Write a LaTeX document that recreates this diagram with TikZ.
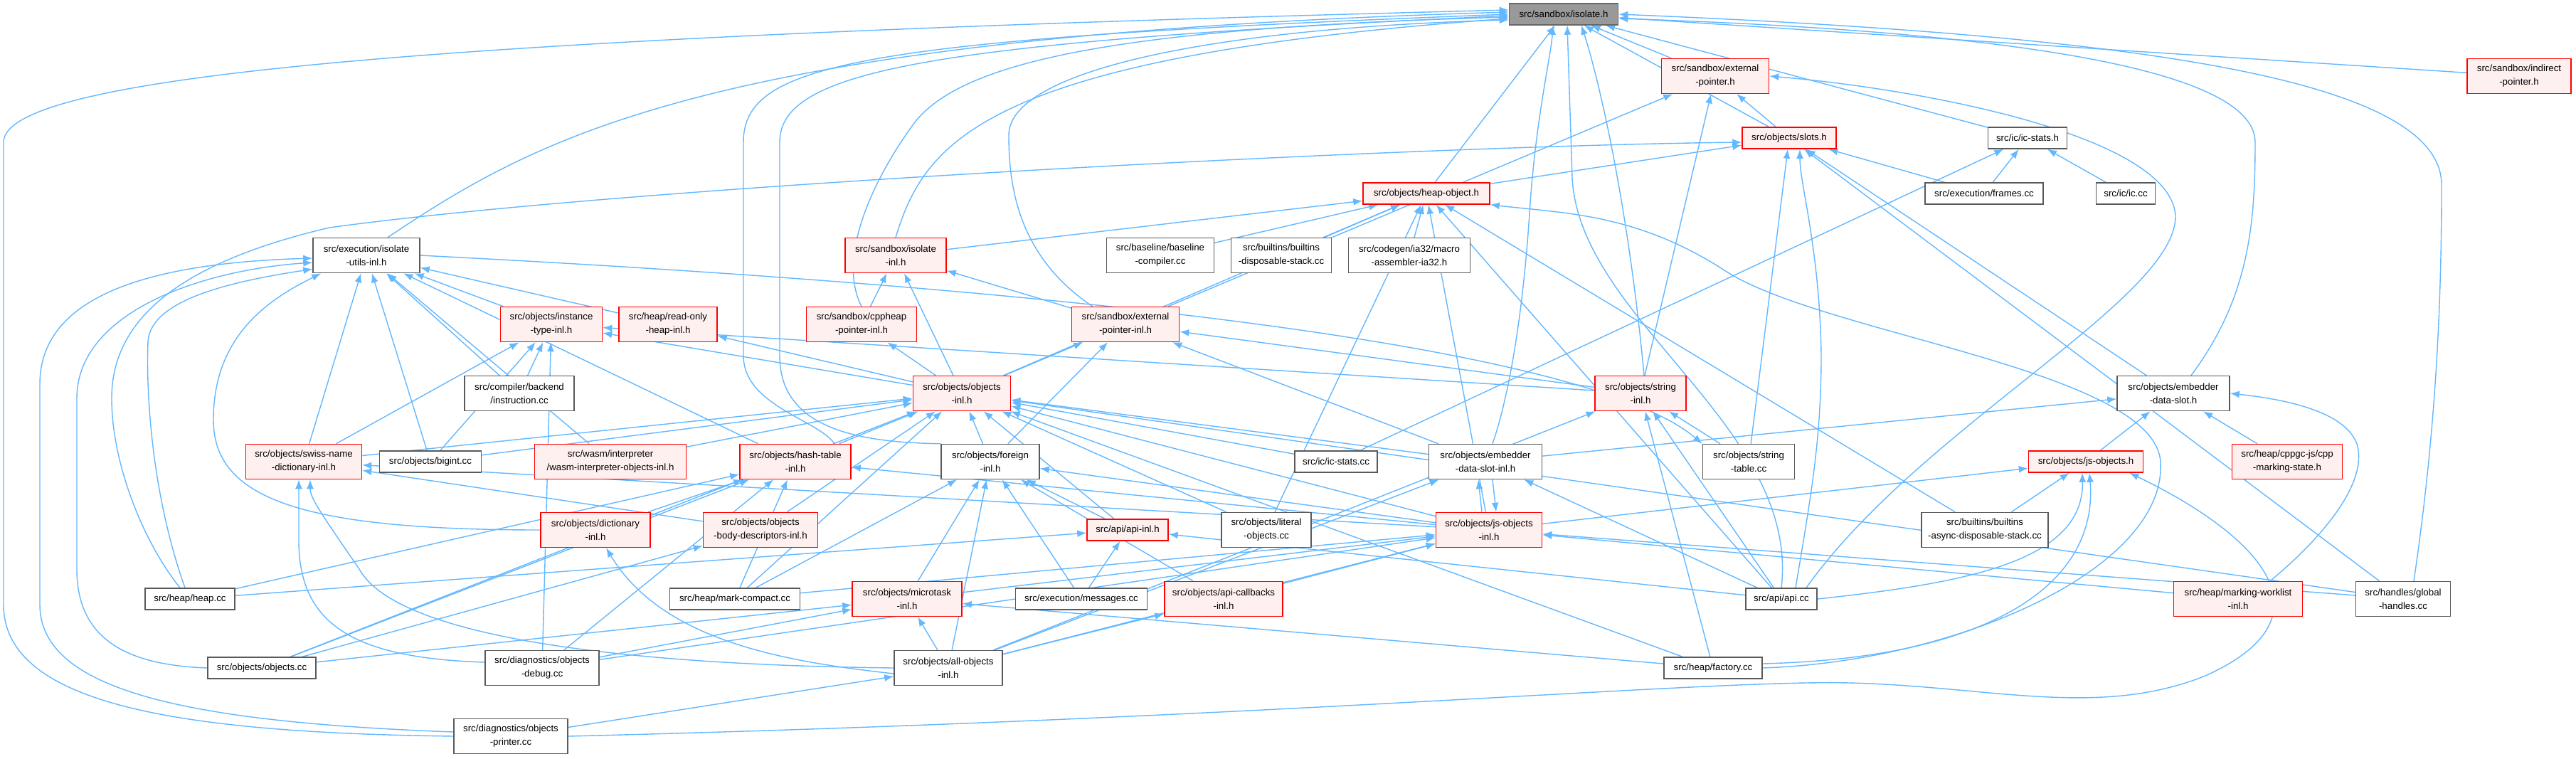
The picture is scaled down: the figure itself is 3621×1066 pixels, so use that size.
\documentclass[tikz,border=0pt]{standalone}
\usepackage{fontspec}
\setmainfont{Liberation Sans}
\usetikzlibrary{arrows.meta,calc,backgrounds}
\definecolor{eblue}{HTML}{63B8FF}
\definecolor{rfill}{HTML}{FFF0F0}
\begin{document}
\begin{tikzpicture}[x=1pt,y=-1pt,
 nb/.style={draw=black!65, fill=white, line width=1.5pt, font=\fontsize{13.3}{19}\selectfont, align=center, inner sep=0pt, minimum height=30pt},
 tl/.style={minimum height=49pt},
 rn/.style={draw=red, fill=rfill},
 gn/.style={draw=black!60, fill=black!40},
 ed/.style={draw=eblue, line width=1.4pt, -{Latex[length=13pt,width=10pt]}}]
\useasboundingbox (0,0) rectangle (3621,1066);
% nodes
\node[nb,gn,minimum width=153pt] (iso) at (2198,20) {src/sandbox/isolate.h};
\node[nb,tl,rn,minimum width=151pt] (sbext) at (2411,107) {src/sandbox/external\\-pointer.h};
\node[nb,tl,rn,minimum width=146pt] (indirect) at (3541,107) {src/sandbox/indirect\\-pointer.h};
\node[nb,rn,minimum width=132pt] (slots) at (2515,194) {src/objects/slots.h};
\node[nb,minimum width=111pt] (icstats) at (2850,194) {src/ic/ic-stats.h};
\node[nb,minimum width=166pt] (frames) at (2789,272) {src/execution/frames.cc};
\node[nb,minimum width=83pt] (iccc) at (2988,272) {src/ic/ic.cc};
\node[nb,rn,minimum width=178pt] (heapobject) at (2005,272) {src/objects/heap-object.h};
\node[nb,tl,minimum width=150pt] (isoutils) at (515,359) {src/execution/isolate\\-utils-inl.h};
\node[nb,tl,rn,minimum width=142pt] (sbisoinl) at (1259,359) {src/sandbox/isolate\\-inl.h};
\node[nb,tl,minimum width=151pt] (baseline) at (1631,359) {src/baseline/baseline\\-compiler.cc};
\node[nb,tl,minimum width=141pt] (builtinsdisp) at (1801,359) {src/builtins/builtins\\-disposable-stack.cc};
\node[nb,tl,minimum width=171pt] (codegen) at (1981,359) {src/codegen/ia32/macro\\-assembler-ia32.h};
\node[nb,tl,rn,minimum width=143pt] (insttype) at (775,456) {src/objects/instance\\-type-inl.h};
\node[nb,tl,rn,minimum width=138pt] (readonly) at (939,456) {src/heap/read-only\\-heap-inl.h};
\node[nb,tl,rn,minimum width=155pt] (cppheap) at (1211,456) {src/sandbox/cppheap\\-pointer-inl.h};
\node[nb,tl,rn,minimum width=151pt] (extptrinl) at (1582,456) {src/sandbox/external\\-pointer-inl.h};
\node[nb,tl,minimum width=154pt] (compiler) at (730,553) {src/compiler/backend\\/instruction.cc};
\node[nb,tl,rn,minimum width=137pt] (objectsinl) at (1352,553) {src/objects/objects\\-inl.h};
\node[nb,tl,rn,minimum width=128pt] (stringinl) at (2306,553) {src/objects/string\\-inl.h};
\node[nb,tl,minimum width=158pt] (embedder) at (3055,553) {src/objects/embedder\\-data-slot.h};
\node[nb,tl,rn,minimum width=163pt] (swiss) at (427,649) {src/objects/swiss-name\\-dictionary-inl.h};
\node[nb,minimum width=143pt] (bigint) at (605,649) {src/objects/bigint.cc};
\node[nb,tl,rn,minimum width=213pt] (wasm) at (858,649) {src/wasm/interpreter\\/wasm-interpreter-objects-inl.h};
\node[nb,tl,rn,minimum width=156pt] (hashtable) at (1118,649) {src/objects/hash-table\\-inl.h};
\node[nb,tl,minimum width=138pt] (foreign) at (1392,649) {src/objects/foreign\\-inl.h};
\node[nb,minimum width=116pt] (icstatscc) at (1878,649) {src/ic/ic-stats.cc};
\node[nb,tl,minimum width=159pt] (embedderinl) at (2088,649) {src/objects/embedder\\-data-slot-inl.h};
\node[nb,tl,minimum width=129pt] (stringtable) at (2458,649) {src/objects/string\\-table.cc};
\node[nb,rn,minimum width=161pt] (jsobjects) at (2932,649) {src/objects/js-objects.h};
\node[nb,tl,rn,minimum width=155pt] (cppgc) at (3215,649) {src/heap/cppgc-js/cpp\\-marking-state.h};
\node[nb,tl,rn,minimum width=154pt] (dictionary) at (837,745) {src/objects/dictionary\\-inl.h};
\node[nb,tl,rn,minimum width=161pt] (bodydesc) at (1069,745) {src/objects/objects\\-body-descriptors-inl.h};
\node[nb,rn,minimum width=114pt] (apiinl) at (1585,745) {src/api/api-inl.h};
\node[nb,tl,minimum width=126pt] (literal) at (1780,745) {src/objects/literal\\-objects.cc};
\node[nb,tl,rn,minimum width=149pt] (jsobjinl) at (2093,745) {src/objects/js-objects\\-inl.h};
\node[nb,tl,minimum width=178pt] (asyncdisp) at (2790,745) {src/builtins/builtins\\-async-disposable-stack.cc};
\node[nb,minimum width=126pt] (heapcc) at (267,842) {src/heap/heap.cc};
\node[nb,minimum width=183pt] (markcompact) at (1033,842) {src/heap/mark-compact.cc};
\node[nb,tl,rn,minimum width=154pt] (microtask) at (1275,842) {src/objects/microtask\\-inl.h};
\node[nb,minimum width=185pt] (messages) at (1520,842) {src/execution/messages.cc};
\node[nb,tl,rn,minimum width=166pt] (apicallbacks) at (1720,842) {src/objects/api-callbacks\\-inl.h};
\node[nb,minimum width=100pt] (apicc) at (2504,842) {src/api/api.cc};
\node[nb,tl,rn,minimum width=181pt] (markingworklist) at (3146,842) {src/heap/marking-worklist\\-inl.h};
\node[nb,tl,minimum width=133pt] (globalhandles) at (3378,842) {src/handles/global\\-handles.cc};
\node[nb,minimum width=152pt] (objectscc) at (368,939) {src/objects/objects.cc};
\node[nb,tl,minimum width=160pt] (debugcc) at (762,939) {src/diagnostics/objects\\-debug.cc};
\node[nb,tl,minimum width=152pt] (allobjects) at (1333,939) {src/objects/all-objects\\-inl.h};
\node[nb,minimum width=138pt] (factory) at (2408,939) {src/heap/factory.cc};
\node[nb,tl,minimum width=160pt] (printer) at (718,1035) {src/diagnostics/objects\\-printer.cc};
% edges
\begin{scope}[on background layer]
\fill[white] (0,0) rectangle (3621,1066);
\foreach \a/\b in {sbext/iso, indirect/iso, slots/iso, slots/sbext, icstats/iso, frames/slots, frames/icstats, iccc/icstats, heapobject/iso, heapobject/slots, sbisoinl/heapobject, baseline/heapobject, builtinsdisp/heapobject, codegen/heapobject, cppheap/sbisoinl, extptrinl/sbisoinl, extptrinl/sbext, insttype/isoutils, readonly/isoutils, compiler/isoutils, compiler/insttype, objectsinl/heapobject, objectsinl/sbisoinl, objectsinl/cppheap, objectsinl/extptrinl, objectsinl/readonly, objectsinl/insttype, stringinl/sbext, stringinl/extptrinl, stringinl/insttype, stringtable/stringinl, stringtable/slots, embedder/slots, embedderinl/embedder, embedderinl/extptrinl, embedderinl/objectsinl, jsobjinl/foreign, jsobjinl/jsobjects, jsobjinl/objectsinl, jsobjinl/hashtable, jsobjinl/swiss, jsobjinl/heapobject, markingworklist/jsobjinl, cppgc/embedder, jsobjects/embedder, asyncdisp/heapobject, asyncdisp/jsobjects, globalhandles/slots, globalhandles/objectsinl, globalhandles/jsobjinl, foreign/objectsinl, foreign/extptrinl, hashtable/isoutils, hashtable/objectsinl, swiss/isoutils, swiss/insttype, swiss/objectsinl, bigint/isoutils, bigint/insttype, bigint/objectsinl, wasm/isoutils, wasm/objectsinl, dictionary/hashtable, bodydesc/swiss, bodydesc/objectsinl, heapcc/hashtable, heapcc/apiinl, markcompact/hashtable, markcompact/objectsinl, markcompact/jsobjinl, markcompact/foreign, objectscc/objectsinl, objectscc/hashtable, objectscc/bodydesc, objectscc/microtask, debugcc/insttype, debugcc/hashtable, debugcc/microtask, debugcc/jsobjinl, printer/allobjects, icstatscc/objectsinl, icstatscc/icstats, literal/objectsinl, literal/heapobject, apiinl/foreign, apiinl/objectsinl, microtask/foreign, microtask/jsobjinl, messages/foreign, messages/apiinl, apicallbacks/foreign, apicallbacks/jsobjinl, allobjects/foreign, allobjects/microtask, allobjects/apicallbacks, allobjects/jsobjinl, allobjects/embedderinl, allobjects/stringinl, factory/objectsinl, factory/stringinl, factory/microtask, apicc/stringinl, apicc/apiinl, apicc/embedderinl, apicc/heapobject}
  \draw[ed] (\a) -- (\b);
\draw[ed] ($(jsobjinl.north)+(-10,0)$) -- ($(embedderinl.south)+(-10,0)$);
\draw[ed] ($(embedderinl.south)+(10,0)$) -- ($(jsobjinl.north)+(10,0)$);
\draw[ed] ($(isoutils.north)+(30,0)$) .. controls (760,190) and (1000,50) .. ($(iso.west)+(0,-3)$);
\draw[ed] (printer.west) .. controls (250,1030) and (5,990) .. (5,850) -- (5,200) .. controls (5,100) and (700,50) .. ($(iso.west)+(0,-6)$);
\draw[ed] ($(printer.west)+(0,-6)$) .. controls (260,1015) and (56,970) .. (56,850) -- (56,540) .. controls (56,420) and (200,370) .. ($(isoutils.west)+(0,4)$);
\draw[ed] (objectscc.west) .. controls (180,935) and (108,900) .. (108,800) -- (108,560) .. controls (108,440) and (280,380) .. ($(isoutils.west)+(0,10)$);
\draw[ed] ($(heapcc.north)+(-14,0)$) .. controls (200,760) and (157,650) .. (157,560) .. controls (157,450) and (250,370) .. (463,320) .. controls (900,260) and (2000,205) .. ($(slots.west)+(0,6)$);
\draw[ed] ($(heapcc.north)+(-7,0)$) .. controls (215,700) and (205,560) .. (208,480) .. controls (212,420) and (330,395) .. ($(isoutils.south west)+(0,-6)$);
\draw[ed] (dictionary.west) .. controls (420,745) and (300,700) .. (300,590) .. controls (300,470) and (380,420) .. ($(isoutils.south west)+(12,0)$);
\draw[ed] ($(hashtable.north)+(55,0)$) .. controls (1150,590) and (1045,570) .. (1045,500) -- (1045,200) .. controls (1045,90) and (1200,55) .. (iso.west);
\draw[ed] (foreign.north west) .. controls (1200,622) and (1096,600) .. (1096,500) -- (1096,200) .. controls (1096,100) and (1300,60) .. ($(iso.west)+(0,2)$);
\draw[ed] (cppheap.north) .. controls (1175,360) and (1230,250) .. (1280,180) .. controls (1340,90) and (1550,40) .. ($(iso.west)+(0,4)$);
\draw[ed] (sbisoinl.north) .. controls (1300,200) and (1380,80) .. ($(iso.west)+(0,6)$);
\draw[ed] ($(extptrinl.north west)+(30,0)$) .. controls (1430,360) and (1418,260) .. (1418,190) .. controls (1418,100) and (1700,40) .. ($(iso.west)+(0,8)$);
\draw[ed] ($(stringinl.north)+(5,0)$) .. controls (2290,300) and (2250,120) .. ($(iso.south)+(25,0)$);
\draw[ed] ($(embedderinl.north)+(10,0)$) .. controls (2120,560) and (2140,450) .. (2150,300) .. controls (2158,170) and (2180,80) .. ($(iso.south)+(-15,0)$);
\draw[ed] (apicc.north) .. controls (2530,600) and (2220,450) .. (2210,250) -- ($(iso.south)+(5,0)$);
\draw[ed] ($(apicc.north)+(35,0)$) .. controls (2700,600) and (3060,420) .. (3058,303) .. controls (3050,190) and (2700,125) .. (sbext.east);
\draw[ed] (factory.east) .. controls (2750,930) and (3045,800) .. (3037,650) .. controls (3030,520) and (2560,470) .. (2424,380) .. controls (2300,300) and (2200,300) .. (heapobject.south east);
\draw[ed] ($(embedder.north)+(25,0)$) .. controls (3160,420) and (3170,320) .. (3170,200) .. controls (3170,80) and (2700,40) .. ($(iso.east)+(0,6)$);
\draw[ed] ($(globalhandles.north)+(15,0)$) .. controls (3425,600) and (3432,420) .. (3432,260) .. controls (3432,110) and (3000,50) .. (iso.east);
\draw[ed] (printer.east) .. controls (1800,1010) and (2400,955) .. (2600,960) .. controls (2800,965) and (2950,1010) .. (3100,950) .. controls (3300,860) and (3150,740) .. ($(jsobjects.south east)+(-20,0)$);
\draw[ed] ($(markingworklist.north)+(45,0)$) .. controls (3260,760) and (3330,680) .. (3313,624) .. controls (3295,575) and (3200,560) .. (embedder.east);
\draw[ed] (apicc.east) .. controls (2760,820) and (2930,790) .. ($(jsobjects.south)+(-5,0)$);
\draw[ed] ($(factory.east)+(0,-6)$) .. controls (2800,925) and (2950,820) .. ($(jsobjects.south)+(5,0)$);
\draw[ed] ($(debugcc.west)+(0,-8)$) .. controls (500,925) and (420,880) .. (420,760) -- ($(swiss.south)+(-7,0)$);
\draw[ed] (allobjects.west) .. controls (900,935) and (560,900) .. (505,800) .. controls (450,720) and (436,700) .. ($(swiss.south)+(9,0)$);
\draw[ed] ($(allobjects.west)+(0,8)$) .. controls (1100,930) and (930,900) .. ($(dictionary.south)+(15,0)$);
\draw[ed] ($(apicc.north)+(20,0)$) .. controls (2545,700) and (2560,620) .. (2560,500) .. controls (2558,350) and (2530,260) .. ($(slots.south)+(15,0)$);
\draw[ed] (isoutils.east) .. controls (1200,390) and (2200,460) .. (stringtable.north west);
\end{scope}
\end{tikzpicture}
\end{document}
